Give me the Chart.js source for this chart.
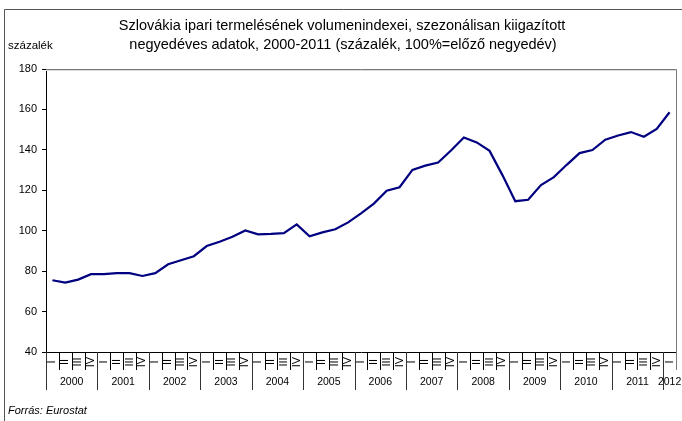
<!DOCTYPE html>
<html><head><meta charset="utf-8">
<script src="https://cdn.jsdelivr.net/npm/chart.js@4.4.1/dist/chart.umd.min.js"></script>
<style>html,body{margin:0;padding:0;background:#fff;}#wrap{width:682px;height:421px;position:relative;}</style>
</head><body><div id="wrap"><canvas id="c" width="682" height="421"></canvas></div>
<script>
const years = ['2000','2001','2002','2003','2004','2005','2006','2007','2008','2009','2010','2011','2012'];
const quarters = ['I','II','III','IV'];
const values = [75.5,74.3,75.8,78.5,78.5,79.0,79.0,77.6,79.0,83.4,
  85.4,87.4,92.4,94.5,97.0,100.1,98.2,98.4,98.8,103.1,
  97.2,99.2,100.7,104.1,108.6,113.4,119.8,121.5,130.1,132.2,
  133.7,139.7,146.1,143.7,139.5,127.5,114.6,115.3,122.6,126.5,
  132.6,138.4,139.9,145.0,147.1,148.8,146.5,150.3,158.6];
const yTicks = [40,60,80,100,120,140,160,180];
const titleLines = ['Szlovákia ipari termelésének volumenindexei, szezonálisan kiigazított',
  'negyedéves adatok, 2000-2011 (százalék, 100%=előző negyedév)'];
const unitLabel = 'százalék';
const sourceLabel = 'Forrás: Eurostat';

const labels = values.map((v,i)=>years[Math.floor(i/4)]+' '+quarters[i%4]);
const FONT = '"Liberation Sans", Arial, sans-serif';

const deco = {
  id:'deco',
  afterDraw(chart){
    const ctx = chart.ctx, ca = chart.chartArea, xs = chart.scales.x;
    ctx.save();
    // outer frame
    ctx.strokeStyle = '#555'; ctx.lineWidth = 1;
    ctx.beginPath(); ctx.moveTo(4.5,421); ctx.lineTo(4.5,9.5); ctx.lineTo(682,9.5); ctx.stroke();
    // plot box top/right
    ctx.strokeStyle = '#7a7a7a';
    ctx.beginPath(); ctx.moveTo(ca.left, ca.top+0.5); ctx.lineTo(ca.right+0.5, ca.top+0.5); ctx.lineTo(ca.right+0.5, ca.bottom+18); ctx.stroke();
    ctx.strokeStyle = '#d8d8d8';
    ctx.beginPath(); ctx.moveTo(ca.left, ca.top+1.5); ctx.lineTo(ca.right-0.5, ca.top+1.5); ctx.stroke();
    // titles
    ctx.fillStyle = '#000'; ctx.textAlign = 'center'; ctx.textBaseline = 'middle';
    ctx.font = '14.5px ' + FONT;
    ctx.fillText(titleLines[0], 342, 26);
    ctx.fillText(titleLines[1], 343, 45);
    ctx.textAlign = 'left'; ctx.font = '11.5px ' + FONT;
    ctx.fillText(unitLabel, 8, 46);
    ctx.font = 'italic 11px ' + FONT;
    ctx.fillText(sourceLabel, 8, 411);
    // x axis categories
    const n = values.length;
    const w = (xs.getPixelForValue(1) - xs.getPixelForValue(0));
    ctx.lineWidth = 1;
    for (let k=0;k<n;k++){
      const b = Math.round(xs.getPixelForValue(k) - w/2) + 0.5;
      const isYear = k%4===0;
      ctx.strokeStyle = isYear ? '#333' : '#000';
      ctx.beginPath(); ctx.moveTo(b, ca.bottom); ctx.lineTo(b, ca.bottom + (isYear?38:18)); ctx.stroke();
    }
    // quarter labels rotated
    ctx.fillStyle = '#000'; ctx.font = '11px ' + FONT;
    ctx.textAlign = 'center'; ctx.textBaseline = 'middle';
    for (let k=0;k<n;k++){
      const cx = xs.getPixelForValue(k);
      ctx.save(); ctx.translate(cx, ca.bottom+10); ctx.rotate(-Math.PI/2);
      ctx.fillText(quarters[k%4], 0, 0); ctx.restore();
    }
    // year labels
    ctx.font = '10.5px ' + FONT;
    for (let y=0;y<years.length;y++){
      const first = y*4, last = Math.min(y*4+3, n-1);
      const cx = (xs.getPixelForValue(first)+xs.getPixelForValue(last))/2;
      ctx.fillText(years[y], cx, ca.bottom+30);
    }
    ctx.restore();
  }
};

new Chart(document.getElementById('c'), {
  type:'line',
  data:{labels, datasets:[{data:values, borderColor:'#000080', borderWidth:2.2, pointRadius:0, tension:0, fill:false}]},
  options:{
    responsive:false, animation:false, events:[],
    layout:{padding:{left:0,right:6,top:69,bottom:69}},
    plugins:{legend:{display:false}, tooltip:{enabled:false}, title:{display:false}},
    scales:{
      x:{type:'category', offset:true, grid:{display:false}, border:{display:true,color:'#000',width:1},
         ticks:{display:false}, afterFit(s){s.height=0;}},
      y:{min:40,max:180, afterBuildTicks(s){s.ticks=yTicks.map(v=>({value:v}));},
         grid:{drawOnChartArea:false, drawTicks:true, tickLength:4, color:'#000'},
         border:{display:true,color:'#000',width:1},
         ticks:{color:'#000', padding:5, font:{family:FONT,size:11}},
         afterFit(s){s.width=46;}}
    }
  },
  plugins:[deco]
});
</script></body></html>
